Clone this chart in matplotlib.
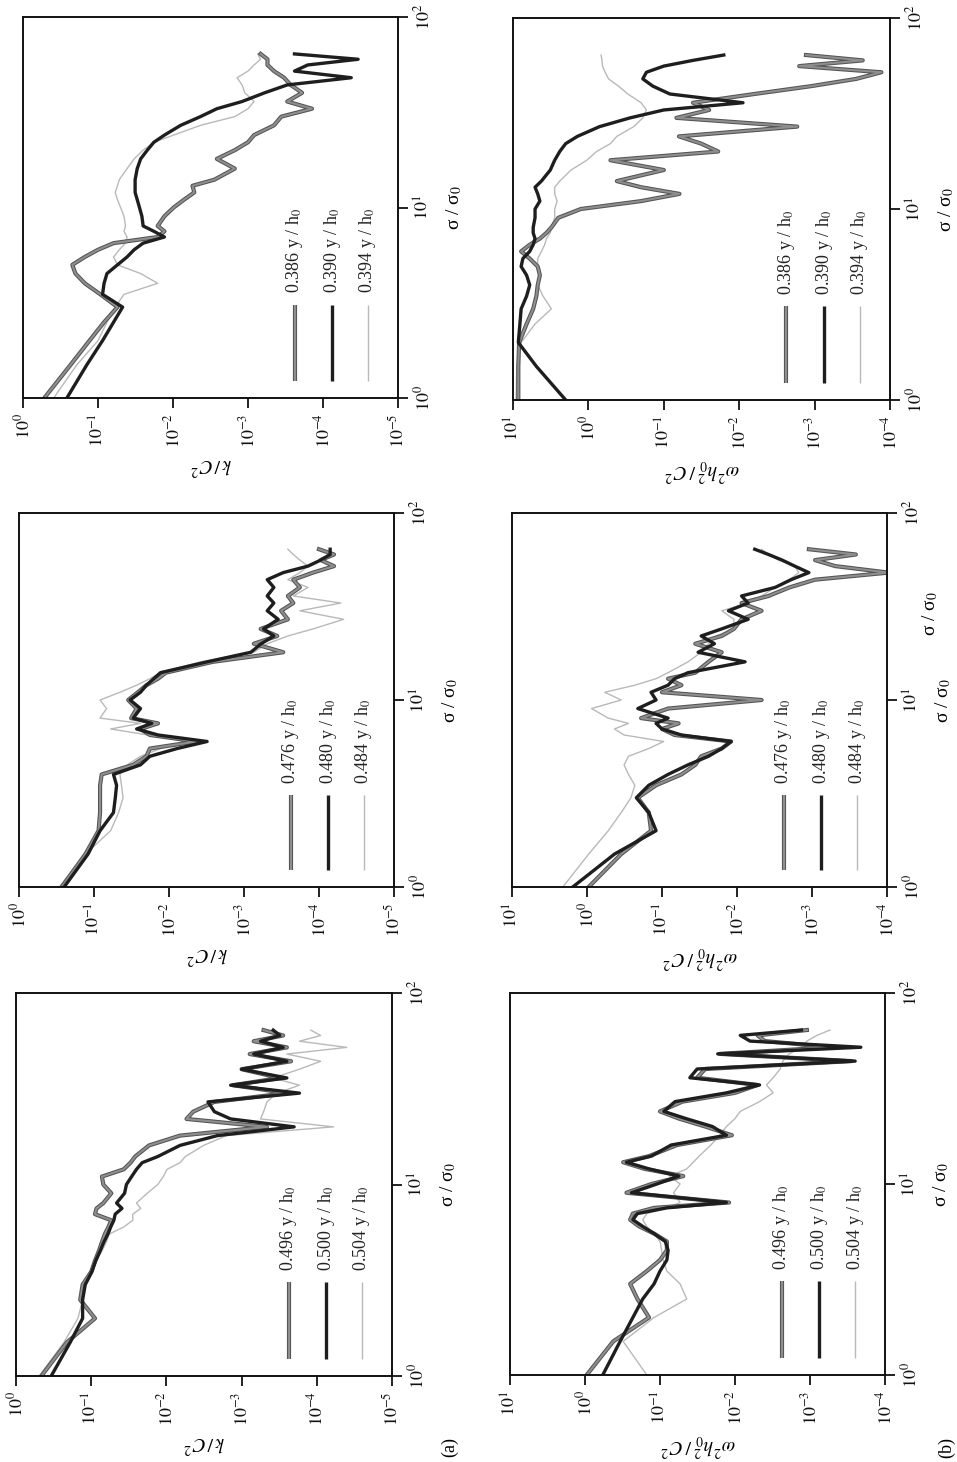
import matplotlib
matplotlib.use("Agg")
import matplotlib.pyplot as plt
import matplotlib.patheffects as pe
from matplotlib.ticker import NullLocator

plt.rcParams['font.family'] = ['Liberation Serif', 'DejaVu Serif']
plt.rcParams['mathtext.fontset'] = 'stix'

# normal stress ratio sigma / sigma_0 (common sampling for every profile)
sigma = [1.0, 1.5, 2.0, 2.5, 3.0, 3.5, 4.0, 4.5, 5.0, 5.5, 6.0, 6.5, 7.0, 7.5, 8.0, 9.0,
         10, 11, 12, 13, 14, 16, 18, 20, 22, 24, 27, 30, 33, 36, 40, 44, 48, 52, 56, 60, 64]

# (a) turbulent kinetic energy k / C^2
k_0496 = [0.46, 0.21, 0.089, 0.14, 0.13, 0.10, 0.089, 0.079, 0.072, 0.066, 0.059, 0.054, 0.089, 0.085,
          0.069, 0.054, 0.069, 0.072, 0.037, 0.030, 0.026, 0.017, 6.6e-3, 4.6e-4, 5.4e-3, 4.4e-3, 2.3e-3,
          2.5e-4, 1.3e-3, 3.1e-4, 1.0e-3, 2.2e-4, 7.8e-4, 2.5e-4, 6.9e-4, 2.8e-4, 5.1e-4]
k_0500 = [0.34, 0.19, 0.13, 0.13, 0.12, 0.098, 0.087, 0.076, 0.068, 0.060, 0.055, 0.050, 0.048, 0.039,
          0.046, 0.036, 0.034, 0.029, 0.025, 0.021, 0.013, 6.6e-3, 2.1e-3, 2.0e-4, 1.4e-3, 2.3e-3, 2.8e-3,
          1.7e-4, 1.4e-3, 2.5e-4, 1.0e-3, 2.5e-4, 6.9e-4, 2.8e-4, 5.6e-4, 3.1e-4, 3.8e-4]
k_0504 = [0.49, 0.23, 0.15, 0.13, 0.12, 0.098, 0.085, 0.072, 0.063, 0.058, 0.037, 0.028, 0.028, 0.022,
          0.025, 0.018, 0.013, 0.011, 9.8e-3, 6.6e-3, 5.6e-3, 3.2e-3, 1.6e-3, 6.0e-5, 5.6e-4, 5.1e-4, 4.6e-4,
          3.4e-4, 1.7e-4, 3.8e-4, 1.7e-4, 8.9e-5, 2.5e-4, 4.0e-5, 1.7e-4, 8.9e-5, 1.2e-4]

k_0476 = [0.27, 0.13, 0.087, 0.083, 0.083, 0.083, 0.079, 0.030, 0.020, 0.018, 4.3e-3, 0.018, 0.024, 0.014,
          0.032, 0.027, 0.035, 0.026, 0.020, 0.014, 0.011, 2.6e-3, 3.0e-4, 7.4e-4, 3.6e-4, 6.0e-4, 2.6e-4,
          3.2e-4, 2.2e-4, 2.6e-4, 1.8e-4, 2.2e-4, 1.2e-4, 6.3e-5, 9.5e-5, 6.3e-5, 1.0e-4]
k_0480 = [0.25, 0.12, 0.083, 0.055, 0.052, 0.050, 0.055, 0.024, 0.018, 7.8e-3, 3.1e-3, 0.014, 0.027, 0.017,
          0.030, 0.024, 0.033, 0.024, 0.020, 0.016, 0.013, 3.1e-3, 8.1e-4, 5.9e-4, 4.0e-4, 5.5e-4, 3.5e-4,
          4.9e-4, 4.0e-4, 4.9e-4, 4.0e-4, 4.9e-4, 3.0e-4, 1.4e-4, 9.5e-5, 7.1e-5, 7.1e-5]
k_0484 = [0.29, 0.13, 0.060, 0.047, 0.041, 0.043, 0.045, 0.036, 0.024, 0.013, 5.8e-3, 0.019, 0.060, 0.024,
          0.083, 0.068, 0.083, 0.045, 0.027, 0.018, 0.013, 3.8e-3, 7.4e-4, 4.9e-4, 2.6e-4, 1.2e-4, 4.7e-5,
          1.8e-4, 5.1e-5, 2.2e-4, 1.4e-4, 2.6e-4, 1.8e-4, 1.4e-4, 1.8e-4, 2.2e-4, 2.6e-4]

k_0386 = [0.52, 0.23, 0.13, 0.083, 0.055, 0.093, 0.15, 0.20, 0.22, 0.15, 0.10, 0.062, 0.016, 0.013,
          0.016, 0.013, 9.8e-3, 7.1e-3, 5.2e-3, 5.5e-3, 2.8e-3, 1.5e-3, 2.6e-3, 1.5e-3, 1.0e-3, 8.3e-4, 4.5e-4,
          3.6e-4, 1.4e-4, 3.0e-4, 1.9e-4, 2.7e-4, 3.3e-4, 4.5e-4, 5.5e-4, 5.5e-4, 6.8e-4]
k_0390 = [0.26, 0.14, 0.087, 0.062, 0.047, 0.087, 0.083, 0.076, 0.055, 0.041, 0.033, 0.025, 0.013, 0.018,
          0.025, 0.026, 0.028, 0.030, 0.032, 0.032, 0.032, 0.030, 0.027, 0.022, 0.018, 0.013, 7.9e-3,
          4.3e-3, 2.6e-3, 1.2e-3, 6.0e-4, 3.0e-4, 4.2e-5, 2.4e-4, 1.6e-4, 3.4e-5, 2.4e-4]
k_0394 = [0.39, 0.19, 0.10, 0.076, 0.059, 0.045, 0.016, 0.027, 0.055, 0.062, 0.052, 0.043, 0.041, 0.045,
          0.043, 0.045, 0.050, 0.055, 0.059, 0.055, 0.052, 0.041, 0.033, 0.025, 0.018, 9.8e-3, 4.3e-3,
          1.5e-3, 1.0e-3, 8.3e-4, 1.1e-3, 1.2e-3, 1.4e-3, 1.0e-3, 8.3e-4, 6.8e-4, 7.4e-4]

# (b) omega^2 h0^2 / C^2
w_0496 = [0.95, 0.42, 0.14, 0.20, 0.25, 0.15, 0.10, 0.081, 0.081, 0.12, 0.19, 0.25, 0.23, 0.12, 0.012,
          0.28, 0.13, 0.049, 0.16, 0.31, 0.14, 0.059, 0.011, 0.025, 0.056, 0.10, 0.050, 0.010, 5.0e-3,
          0.032, 0.025, 2.8e-4, 0.016, 5.0e-4, 4.0e-3, 5.0e-3, 1.1e-3]
w_0500 = [0.58, 0.34, 0.23, 0.17, 0.12, 0.10, 0.081, 0.078, 0.085, 0.12, 0.17, 0.23, 0.20, 0.081, 0.013,
          0.24, 0.11, 0.056, 0.14, 0.28, 0.13, 0.071, 0.013, 0.020, 0.045, 0.089, 0.063, 0.013, 4.7e-3,
          0.040, 0.032, 2.5e-4, 0.017, 2.1e-4, 6.3e-3, 8.5e-3, 1.3e-3]
w_0504 = [0.15, 0.31, 0.12, 0.044, 0.054, 0.081, 0.091, 0.095, 0.10, 0.12, 0.15, 0.17, 0.15, 0.081, 0.054,
          0.066, 0.054, 0.074, 0.044, 0.036, 0.030, 0.021, 0.016, 0.013, 0.010, 8.5e-3, 4.7e-3, 3.1e-3,
          3.8e-3, 3.1e-3, 2.5e-3, 2.3e-3, 1.9e-3, 1.3e-3, 1.1e-3, 8.1e-4, 5.4e-4]

w_0476 = [0.95, 0.35, 0.14, 0.15, 0.21, 0.12, 0.055, 0.036, 0.030, 0.016, 0.012, 0.068, 0.10, 0.060, 0.19,
          0.083, 4.7e-3, 0.10, 0.055, 0.083, 0.036, 0.024, 0.016, 0.036, 0.016, 0.011, 8.7e-3, 4.7e-3,
          8.7e-3, 3.8e-3, 2.0e-3, 9.1e-4, 9.5e-5, 4.9e-4, 9.1e-4, 2.6e-4, 1.1e-3]
w_0480 = [1.55, 0.43, 0.12, 0.15, 0.22, 0.15, 0.083, 0.045, 0.024, 0.016, 0.012, 0.055, 0.10, 0.12, 0.083,
          0.21, 0.12, 0.14, 0.083, 0.068, 0.045, 7.8e-3, 0.033, 0.020, 0.030, 0.016, 7.1e-3, 0.013, 7.1e-3,
          8.7e-3, 3.1e-3, 1.9e-3, 1.1e-3, 1.7e-3, 2.5e-3, 3.8e-3, 5.8e-3]
w_0484 = [2.1, 0.95, 0.52, 0.35, 0.26, 0.23, 0.28, 0.32, 0.28, 0.15, 0.095, 0.32, 0.43, 0.28, 0.52, 0.87,
          0.35, 0.58, 0.23, 0.12, 0.083, 0.045, 0.030, 0.024, 0.019, 0.011, 0.011, 0.016, 7.1e-3, 4.7e-3,
          3.1e-3, 2.0e-3, 1.5e-3, 1.7e-3, 2.8e-3, 3.8e-3, 4.7e-3]

w_0386 = [8.5, 8.5, 8.3, 6.6, 5.4, 4.9, 4.7, 4.4, 4.7, 6.0, 7.8, 6.0, 4.4, 3.6, 3.1,
          2.5, 1.26, 0.20, 0.062, 0.20, 0.42, 0.10, 0.51, 0.019, 0.032, 0.063, 1.7e-3, 0.068, 0.025,
          0.041, 6.3e-3, 1.1e-3, 2.8e-4, 1.3e-4, 1.6e-3, 2.3e-4, 1.3e-3]
w_0390 = [2.0, 4.9, 8.5, 8.1, 7.8, 6.6, 6.0, 6.6, 7.8, 7.4, 6.0, 5.4, 5.1, 5.4, 5.4, 5.1, 5.1, 4.4, 4.7,
          5.1, 4.2, 3.2, 2.8, 2.4, 2.0, 1.4, 0.71, 0.28, 0.10, 8.9e-3, 0.083, 0.14, 0.19, 0.17, 0.10,
          0.041, 0.016]
w_0394 = [9.1, 8.9, 7.8, 5.1, 3.1, 4.0, 4.7, 4.4, 4.7, 4.7, 4.2, 3.8, 3.6, 3.2, 3.1, 2.8, 2.8, 2.6, 2.8,
          2.8, 2.4, 1.7, 1.05, 0.78, 0.51, 0.42, 0.25, 0.19, 0.17, 0.20, 0.30, 0.40, 0.54, 0.60, 0.65,
          0.66, 0.68]

k_ticks = [1, 1e-1, 1e-2, 1e-3, 1e-4, 1e-5]
k_tick_labels = [r'$10^{0}$', r'$10^{-1}$', r'$10^{-2}$', r'$10^{-3}$', r'$10^{-4}$', r'$10^{-5}$']
w_ticks = [10, 1, 1e-1, 1e-2, 1e-3, 1e-4]
w_tick_labels = [r'$10^{1}$', r'$10^{0}$', r'$10^{-1}$', r'$10^{-2}$', r'$10^{-3}$', r'$10^{-4}$']
sigma_ticks = [1, 10, 100]
sigma_tick_labels = [r'$10^{0}$', r'$10^{1}$', r'$10^{2}$']

k_label = r'$k\,/\,C^2$'
w_label = r'$\omega^2 h_0^2\,/\,C^2$'
sigma_label = 'σ / σ$_0$'

# line styles: medium grey (outlined), near black, light grey
STYLES = [
    dict(color='#8e8e8e', lw=1.5,
         path_effects=[pe.Stroke(linewidth=3.0, foreground='#555555'), pe.Normal()]),
    dict(color='#1e1e1e', lw=2.4),
    dict(color='#b9b9b9', lw=1.0),
]

W, H = 957, 1462
fig = plt.figure(figsize=(W / 100, H / 100), dpi=100)
fig.patch.set_facecolor('white')


def rect(left, top, right, bottom):
    return [left / W, 1 - bottom / H, (right - left) / W, (bottom - top) / H]


def panel(box, series, names, xlim, xticks, xticklabels, xlabel):
    ax = fig.add_axes(box)
    for i in (2, 0, 1):
        st = STYLES[i]
        ax.plot(series[i], sigma, color=st['color'], lw=st['lw'],
                path_effects=st.get('path_effects'), solid_joinstyle='round')
    ax.set_xscale('log')
    ax.set_yscale('log')
    ax.set_xlim(*xlim)
    ax.set_ylim(1, 100)
    ax.yaxis.tick_right()
    ax.yaxis.set_label_position('right')
    ax.set_xticks(xticks, xticklabels)
    ax.set_yticks(sigma_ticks, sigma_tick_labels)
    ax.xaxis.set_minor_locator(NullLocator())
    ax.yaxis.set_minor_locator(NullLocator())
    ax.tick_params(direction='out', length=7, width=1.3, labelsize=13, pad=4, colors='#111111')
    for lab in ax.get_xticklabels():
        lab.set_rotation(90)
    for lab in ax.get_yticklabels():
        lab.set_rotation(90)
        lab.set_verticalalignment('center')
    ax.set_xlabel(xlabel, rotation=180, fontsize=14, labelpad=4)
    ax.set_ylabel(sigma_label, rotation=90, fontsize=14, labelpad=8)
    for s in ax.spines.values():
        s.set_linewidth(1.4)
        s.set_color('#111111')
    # legend drawn upright along the panel's right side
    for j, xf in enumerate((0.725, 0.825, 0.92)):
        st = STYLES[j]
        ax.plot([xf, xf], [0.045, 0.245], transform=ax.transAxes, color=st['color'],
                lw=st['lw'], path_effects=st.get('path_effects'), solid_capstyle='butt')
        ax.text(xf, 0.275, names[j], transform=ax.transAxes, rotation=90,
                ha='center', va='bottom', fontsize=13, color='#222222')
    return ax


# left column: k / C^2 ; right column: omega^2 h0^2 / C^2
panel(rect(23, 17, 398, 398), [k_0386, k_0390, k_0394],
      ['0.386 y / h$_0$', '0.390 y / h$_0$', '0.394 y / h$_0$'],
      (1, 1e-5), k_ticks, k_tick_labels, k_label)
panel(rect(19, 513, 394, 887), [k_0476, k_0480, k_0484],
      ['0.476 y / h$_0$', '0.480 y / h$_0$', '0.484 y / h$_0$'],
      (1, 1e-5), k_ticks, k_tick_labels, k_label)
panel(rect(16, 993, 392, 1376), [k_0496, k_0500, k_0504],
      ['0.496 y / h$_0$', '0.500 y / h$_0$', '0.504 y / h$_0$'],
      (1, 1e-5), k_ticks, k_tick_labels, k_label)

panel(rect(513, 18, 890, 400), [w_0386, w_0390, w_0394],
      ['0.386 y / h$_0$', '0.390 y / h$_0$', '0.394 y / h$_0$'],
      (10, 1e-4), w_ticks, w_tick_labels, w_label)
panel(rect(512, 513, 887, 887), [w_0476, w_0480, w_0484],
      ['0.476 y / h$_0$', '0.480 y / h$_0$', '0.484 y / h$_0$'],
      (10, 1e-4), w_ticks, w_tick_labels, w_label)
panel(rect(510, 993, 885, 1375), [w_0496, w_0500, w_0504],
      ['0.496 y / h$_0$', '0.500 y / h$_0$', '0.504 y / h$_0$'],
      (10, 1e-4), w_ticks, w_tick_labels, w_label)

# duplicated axis caption printed beside the middle-right panel
fig.text(930 / W, 1 - 613 / H, sigma_label, rotation=90, ha='center', va='center', fontsize=14)

# part labels
fig.text(450 / W, 1 - 1447 / H, '(a)', rotation=90, ha='center', va='center', fontsize=13)
fig.text(947 / W, 1 - 1447 / H, '(b)', rotation=90, ha='center', va='center', fontsize=13)

fig.savefig('out.png', dpi=100, facecolor='white')
